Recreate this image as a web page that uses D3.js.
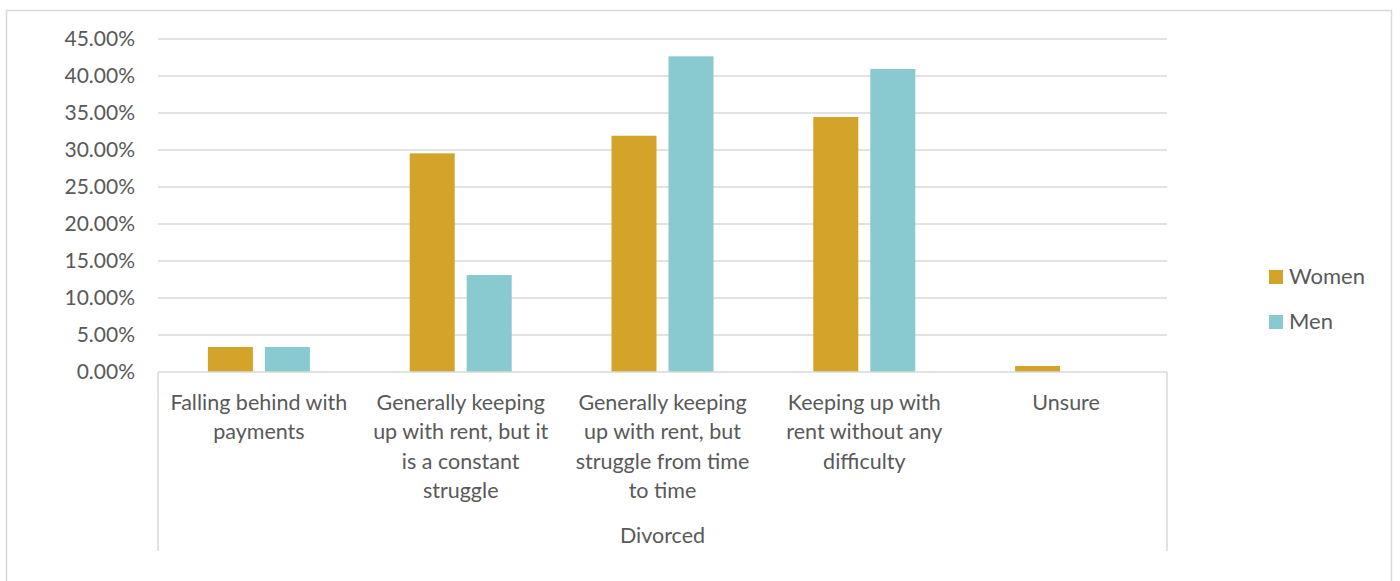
<!DOCTYPE html>
<html>
<head>
<meta charset="utf-8">
<script src="https://cdn.jsdelivr.net/npm/d3@7"></script>
<style>
  html, body { margin: 0; padding: 0; background: #fff; }
  svg { display: block; }
  text { font-family: Lato, "Open Sans", sans-serif; fill: #595959; }
</style>
</head>
<body>
<svg id="chart" width="1400" height="581"></svg>
<script>
// Rent situation of divorced respondents, by gender
const categories = [
  ["Falling behind with", "payments"],
  ["Generally keeping", "up with rent, but it", "is a constant", "struggle"],
  ["Generally keeping", "up with rent, but", "struggle from time", "to time"],
  ["Keeping up with", "rent without any", "difficulty"],
  ["Unsure"]
];
const women = [3.38, 29.55, 31.93, 34.46, 0.81];
const men = [3.38, 13.1, 42.66, 40.95, 0];
const seriesNames = ["Women", "Men"];
const seriesColors = ["#D4A32A", "#88CAD0"];
const yTicks = [0, 5, 10, 15, 20, 25, 30, 35, 40, 45];
const groupLabel = "Divorced";

const svg = d3.select("#chart");

// outer frame
svg.append("rect")
  .attr("x", 6.5).attr("y", 10.5)
  .attr("width", 1385).attr("height", 580)
  .attr("fill", "none").attr("stroke", "#d9d9d9").attr("stroke-width", 1.5);

const plot = { left: 158, right: 1167, top: 39, bottom: 372 };

const x = d3.scaleBand()
  .domain(d3.range(categories.length))
  .range([plot.left, plot.right]);

const y = d3.scaleLinear()
  .domain([0, 45])
  .range([plot.bottom, plot.top]);

// horizontal gridlines
svg.append("g")
  .selectAll("line")
  .data(yTicks.filter(t => t > 0))
  .join("line")
  .attr("x1", plot.left).attr("x2", plot.right)
  .attr("y1", d => y(d)).attr("y2", d => y(d))
  .attr("stroke", "#d9d9d9").attr("stroke-width", 1.5);

// y axis labels
const yAxis = d3.axisLeft(y)
  .tickValues(yTicks)
  .tickSize(0)
  .tickPadding(23)
  .tickFormat(d => d3.format(".2f")(d) + "%");
const yg = svg.append("g")
  .attr("transform", `translate(${plot.left},0)`)
  .call(yAxis);
yg.select(".domain").remove();
yg.selectAll("text")
  .attr("font-size", 21)
  .style("font-family", "Lato, 'Open Sans', sans-serif")
  .attr("fill", "#595959");

// bars
const barW = x.bandwidth() * 0.223;
const gap = 12;
const data = [women, men];
data.forEach((vals, si) => {
  svg.append("g")
    .selectAll("rect")
    .data(vals)
    .join("rect")
    .attr("x", (d, i) => x(i) + x.bandwidth() / 2 + (si === 0 ? -gap / 2 - barW : gap / 2))
    .attr("width", barW)
    .attr("y", d => y(d))
    .attr("height", d => y(0) - y(d))
    .attr("fill", seriesColors[si]);
});

// category axis lines
const axisBottom = 551;
svg.append("line")
  .attr("x1", plot.left).attr("x2", plot.right)
  .attr("y1", plot.bottom).attr("y2", plot.bottom)
  .attr("stroke", "#d9d9d9").attr("stroke-width", 1.5);
[plot.left, plot.right].forEach(px => {
  svg.append("line")
    .attr("x1", px).attr("x2", px)
    .attr("y1", plot.bottom).attr("y2", axisBottom)
    .attr("stroke", "#d9d9d9").attr("stroke-width", 1.5);
});

// category labels
const lineH = 29.3;
categories.forEach((lines, i) => {
  const t = svg.append("text")
    .attr("x", x(i) + x.bandwidth() / 2)
    .attr("y", 410)
    .attr("text-anchor", "middle")
    .attr("font-size", 21.5);
  lines.forEach((ln, k) => {
    t.append("tspan")
      .attr("x", x(i) + x.bandwidth() / 2)
      .attr("dy", k === 0 ? 0 : lineH)
      .text(ln);
  });
});

// group label
svg.append("text")
  .attr("x", (plot.left + plot.right) / 2)
  .attr("y", 543)
  .attr("text-anchor", "middle")
  .attr("font-size", 21.5)
  .text(groupLabel);

// legend
const legend = svg.append("g");
seriesNames.forEach((name, i) => {
  const ly = 270 + i * 45;
  legend.append("rect")
    .attr("x", 1269).attr("y", ly)
    .attr("width", 14).attr("height", 14)
    .attr("fill", seriesColors[i]);
  legend.append("text")
    .attr("x", 1289).attr("y", ly + 14)
    .attr("font-size", 22)
    .text(name);
});
</script>
</body>
</html>
